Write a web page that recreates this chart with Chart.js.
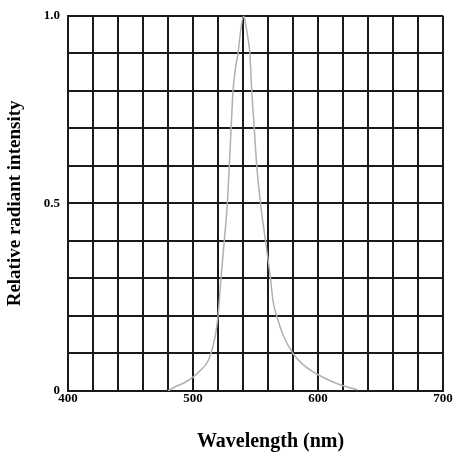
<!DOCTYPE html>
<html>
<head>
<meta charset="utf-8">
<script src="https://cdn.jsdelivr.net/npm/chart.js@4/dist/chart.umd.min.js"></script>
<style>
html,body{margin:0;padding:0;background:#fff;}
#wrap{width:455px;height:461px;}
</style>
</head>
<body>
<div id="wrap"><canvas id="c" width="455" height="461"></canvas></div>
<script>
const wavelengths = [480, 486, 493, 500, 506, 512, 516, 518, 520, 522.4, 525, 527.5, 529, 530.5, 532, 534, 536, 538.5, 540.5, 542, 544, 545.5, 547, 549, 551, 554, 558, 562, 564, 567, 572, 580, 590, 602, 615, 624, 632];
const intensity   = [0,   0.012, 0.022, 0.037, 0.055, 0.08, 0.12, 0.15, 0.2, 0.3, 0.4, 0.5, 0.6, 0.7, 0.8, 0.86, 0.9, 0.97, 1.0, 0.98, 0.94, 0.9, 0.8, 0.7, 0.6, 0.5, 0.4, 0.3, 0.24, 0.2, 0.15, 0.1, 0.065, 0.04, 0.02, 0.01, 0.003];
const xTickLabels = [400, 500, 600, 700];
const yTickLabels = [0, 0.5, 1.0];
const xTitle = 'Wavelength (nm)';
const yTitle = 'Relative radiant intensity';

const points = wavelengths.map((w, i) => ({x: w, y: intensity[i]}));
const serif = "'Liberation Serif', 'DejaVu Serif', serif";

const xTitlePlugin = {
  id: 'xTitle',
  afterDraw(chart) {
    const ctx = chart.ctx;
    ctx.save();
    ctx.fillStyle = '#000';
    ctx.font = "bold 20px " + serif;
    ctx.textAlign = 'center';
    ctx.textBaseline = 'middle';
    ctx.fillText(xTitle, chart.chartArea.left + (chart.chartArea.right - chart.chartArea.left) / 2 + 15, 442);
    ctx.restore();
  }
};

new Chart(document.getElementById('c'), {
  type: 'line',
  data: {
    datasets: [{
      data: points,
      borderColor: '#b0b0b0',
      borderWidth: 1.5,
      pointRadius: 0,
      fill: false,
      cubicInterpolationMode: 'monotone'
    }]
  },
  plugins: [xTitlePlugin],
  options: {
    responsive: false,
    animation: false,
    events: [],
    layout: {padding: {left: 0, right: 12, top: 11, bottom: 0}},
    plugins: {legend: {display: false}, tooltip: {enabled: false}},
    scales: {
      x: {
        type: 'linear',
        min: 400, max: 700,
        grid: {color: '#1a1a1a', lineWidth: 2, drawTicks: false},
        border: {color: '#1a1a1a', width: 2},
        ticks: {
          stepSize: 20,
          padding: 0,
          maxRotation: 0,
          autoSkip: false,
          color: '#000',
          font: {family: serif, size: 13, weight: 'bold'},
          callback: v => xTickLabels.includes(v) ? String(v) : ''
        },
        afterFit: s => { s.height = 70; }
      },
      y: {
        min: 0, max: 1,
        grid: {color: '#1a1a1a', lineWidth: 2, drawTicks: false},
        border: {color: '#1a1a1a', width: 2},
        ticks: {
          stepSize: 0.1,
          padding: 8,
          autoSkip: false,
          color: '#000',
          font: {family: serif, size: 13, weight: 'bold'},
          callback: v => {
            const r = Math.round(v * 10) / 10;
            if (r === 0) return '0';
            if (yTickLabels.includes(r)) return r.toFixed(1);
            return '';
          }
        },
        title: {
          display: true, text: yTitle, color: '#000',
          font: {family: serif, size: 19, weight: 'bold'},
          padding: {top: 4, bottom: 0}
        },
        afterFit: s => { s.width = 68; }
      }
    }
  }
});
</script>
</body>
</html>
